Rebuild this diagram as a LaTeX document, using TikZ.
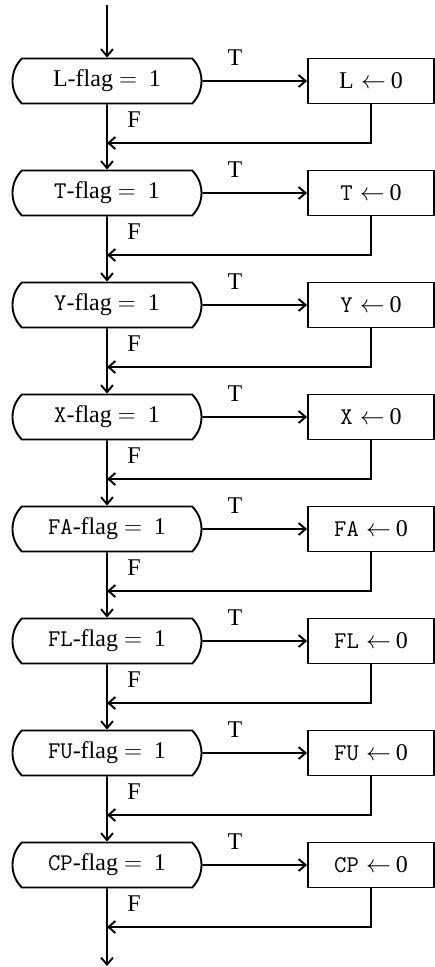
\documentclass[tikz,border=0pt]{standalone}
\usepackage{fontspec}
\setmainfont{Liberation Serif}
\usetikzlibrary{arrows.meta,shapes.misc}
\begin{document}
\begin{tikzpicture}[x=1pt,y=-1pt,line width=1.9pt,
  txt/.style={font=\fontsize{24}{27}\selectfont},
  pill/.style={txt,rounded rectangle,rounded rectangle arc length=90,draw,minimum width=189pt,minimum height=45pt,inner sep=0pt},
  act/.style={txt,rectangle,draw,minimum width=126pt,minimum height=45pt,inner sep=0pt},
  flow/.style={-{Straight Barb[length=7pt,width=12pt,line width=1.9pt]}},
  lab/.style={txt,inner sep=0pt}]
\useasboundingbox (0,0) rectangle (434,967);
\foreach \r/\f [count=\i from 0] in {L/\rmfamily,T/\ttfamily,Y/\ttfamily,X/\ttfamily,FA/\ttfamily,FL/\ttfamily,FU/\ttfamily,CP/\ttfamily} {
  \pgfmathsetmacro\yy{81+112*\i}
  \node[pill] (p\i) at (107,\yy) {{\f\r}-flag\hspace{0.25em}$=$\hspace{0.5em}1};
  \node[act] (a\i) at (371,\yy) {{\f\r}\hspace{0.3em}$\leftarrow$\hspace{0.2em}0};
  \draw[flow] (p\i) -- (a\i);
  \coordinate (r\i) at (107,\yy+62);
  \draw[flow] (a\i.south) |- (r\i);
  \node[lab] (f\i) at (134,\yy+39) {F};
  \node[lab] (t\i) at (235,\yy-23) {T};
}
\coordinate (top) at (107,5);
\coordinate (bot) at (107,966);
\draw[flow] (top) -- (p0);
\foreach \i [evaluate=\i as \j using int(\i+1)] in {0,...,6} {
  \draw (p\i) -- (r\i);
  \draw[flow] (r\i) -- (p\j);
}
\draw (p7) -- (r7);
\draw[flow] (r7) -- (bot);
\end{tikzpicture}
\end{document}
